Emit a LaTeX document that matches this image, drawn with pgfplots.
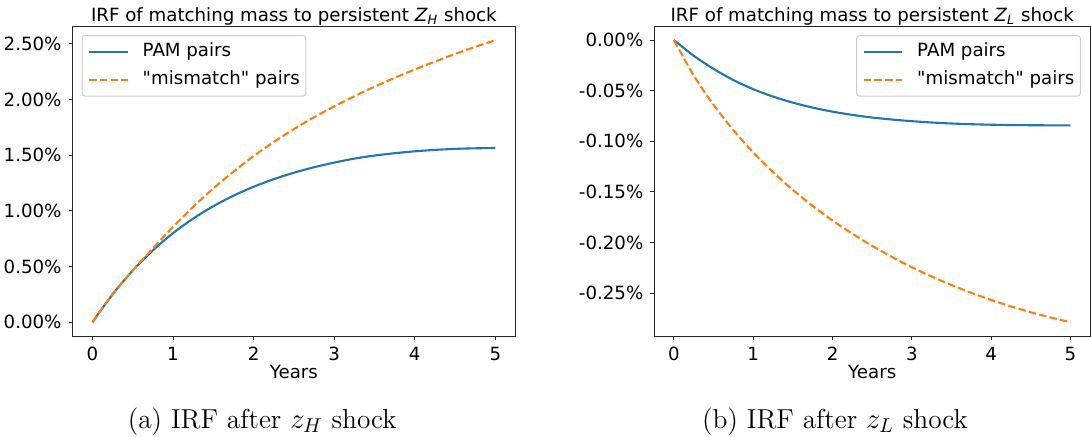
\documentclass[border=0pt]{standalone}
\usepackage{fontspec}
\usepackage{pgfplots}
\pgfplotsset{compat=1.18}
\newfontfamily\dejavu{DejaVu Sans}
\newcommand\mplfont{\dejavu\fontsize{9.1}{11}\selectfont}
\definecolor{tabblue}{HTML}{1F77B4}
\definecolor{taborange}{HTML}{FF7F0E}

% IRFs in percent, years 0..5
\pgfplotstableread{
t    pamH   misH   pamL     misL
0    0      0      0        0
0.25 0.2512 0.2512 -0.0155  -0.0350
0.5  0.4646 0.4646 -0.0285  -0.0640
0.75 0.6459 0.6630 -0.0395  -0.0890
1.0  0.7999 0.8570 -0.0485  -0.1110
1.25 0.9308 1.0360 -0.0558  -0.1305
1.5  1.0419 1.2016 -0.0618  -0.1480
1.75 1.1364 1.3524 -0.0667  -0.1638
2.0  1.2167 1.4919 -0.0707  -0.1782
2.25 1.2849 1.6190 -0.0739  -0.1913
2.5  1.3428 1.7350 -0.0765  -0.2033
2.75 1.3920 1.8410 -0.0785  -0.2143
3.0  1.4338 1.9390 -0.0801  -0.2244
3.25 1.4694 2.0300 -0.0814  -0.2336
3.5  1.4970 2.1150 -0.0824  -0.2420
3.75 1.5180 2.1950 -0.0831  -0.2497
4.0  1.5350 2.2700 -0.0836  -0.2567
4.25 1.5480 2.3410 -0.0839  -0.2631
4.5  1.5570 2.4090 -0.0841  -0.2689
4.75 1.5620 2.4730 -0.0842  -0.2740
5.0  1.5650 2.5340 -0.0842  -0.2787
}\irf

\pgfplotsset{irf/.style={
  scale only axis, height=155.15pt,
  xmin=-0.25, xmax=5.25,
  xtick={0,1,2,3,4,5}, xticklabels={0,1,2,3,4,5},
  tick align=outside, tick pos=left, major tick length=1.85pt,
  tick style={black!85, line width=0.45pt},
  axis line style={black!85, line width=0.5pt},
  ticklabel style={font=\mplfont},
  every axis title shift=0pt,
  title style={font=\mplfont, at={(0.5,1)}, anchor=base, yshift=2.15pt},
  xlabel=Years,
  xlabel style={font=\mplfont, at={(axis description cs:0.5,0)}, anchor=base, yshift=-21.2pt},
  legend cell align=left,
  legend image code/.code={\draw[##1] (0pt,0pt) -- (19.2pt,0pt); \path (26.2pt,0pt);},
  legend style={draw=black!20, line width=0.5pt, rounded corners=1.5pt, fill=white,
    font=\mplfont, inner xsep=3pt, inner ysep=3.9pt, row sep=5.15pt,
    nodes={inner sep=0pt, text height=6.8pt, text depth=1.9pt}},
  pam/.style={tabblue, line width=1.05pt, smooth},
  mis/.style={taborange, line width=1.05pt, smooth, dash pattern=on 3.75pt off 1.6pt},
}}

\begin{document}
\begin{tikzpicture}
\useasboundingbox (0,0) rectangle (545.5pt,218pt);

\begin{axis}[irf, at={(36.15pt,49.85pt)}, anchor=south west, width=221.6pt,
  ymin=-0.1267, ymax=2.6607,
  ytick={0,0.5,1,1.5,2,2.5},
  yticklabels={0.00\%,0.50\%,1.00\%,1.50\%,2.00\%,2.50\%},
  title={IRF of matching mass to persistent \textit{Z}\textsubscript{\textit{H}} shock},
  legend style={at={(0,1)}, anchor=north west, xshift=4.7pt, yshift=-4.5pt}]
\addplot[pam] table[x=t, y=pamH] {\irf};
\addlegendentry{PAM pairs}
\addplot[mis] table[x=t, y=misH] {\irf};
\addlegendentry{"mismatch" pairs}
\end{axis}

\begin{axis}[irf, at={(327.05pt,49.85pt)}, anchor=south west, width=218.1pt,
  ymin=-0.2926, ymax=0.0139,
  ytick={-0.25,-0.2,-0.15,-0.1,-0.05,0},
  yticklabels={-0.25\%,-0.20\%,-0.15\%,-0.10\%,-0.05\%,0.00\%},
  title={IRF of matching mass to persistent \textit{Z}\textsubscript{\textit{L}} shock},
  legend style={at={(1,1)}, anchor=north east, xshift=-4.75pt, yshift=-4.5pt}]
\addplot[pam] table[x=t, y=pamL] {\irf};
\addlegendentry{PAM pairs}
\addplot[mis] table[x=t, y=misL] {\irf};
\addlegendentry{"mismatch" pairs}
\end{axis}

\node[anchor=base, font=\fontsize{13.7}{16}\selectfont] at (131.1pt,3.85pt) {(a) IRF after $z_H$ shock};
\node[anchor=base, font=\fontsize{13.7}{16}\selectfont] at (417.5pt,3.85pt) {(b) IRF after $z_L$ shock};
\end{tikzpicture}
\end{document}
